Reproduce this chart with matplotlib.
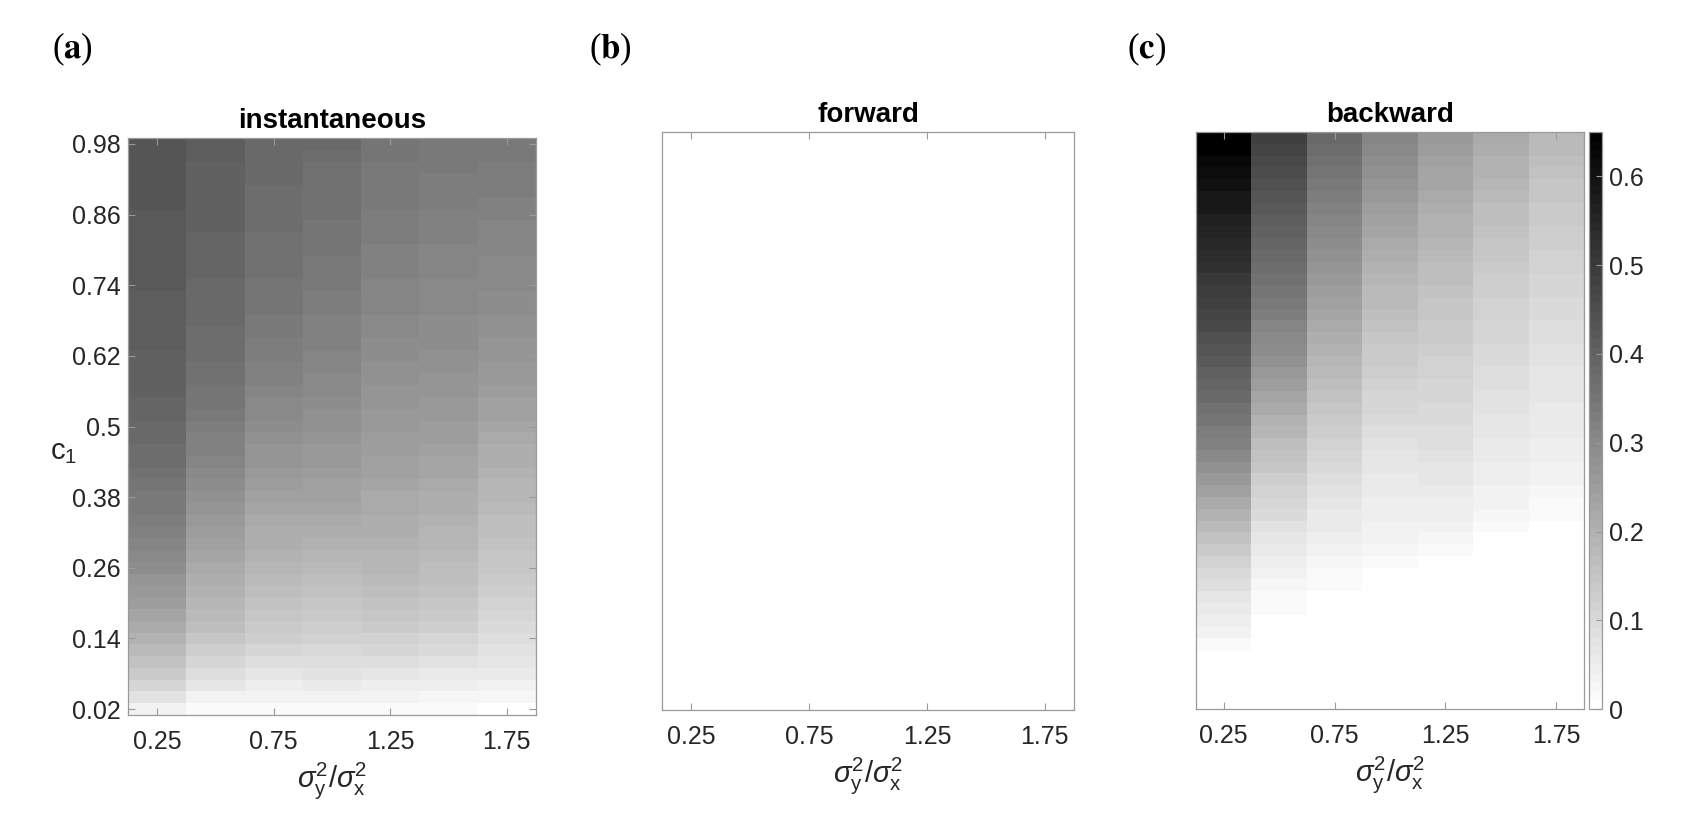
import matplotlib
matplotlib.use('Agg')
import matplotlib.pyplot as plt
import numpy as np

plt.rcParams['font.family'] = ['Liberation Sans', 'DejaVu Sans']
plt.rcParams['mathtext.fontset'] = 'custom'
plt.rcParams['mathtext.rm'] = 'Liberation Sans'
plt.rcParams['mathtext.it'] = 'Liberation Sans:italic'
plt.rcParams['mathtext.bf'] = 'Liberation Sans:bold'

# grid: variance ratio (columns) and c1 (rows, listed top -> bottom)
ratio = [0.25, 0.5, 0.75, 1.0, 1.25, 1.5, 1.75]
c1 = [0.98, 0.96, 0.94, 0.92, 0.90, 0.88, 0.86, 0.84, 0.82, 0.80,
      0.78, 0.76, 0.74, 0.72, 0.70, 0.68, 0.66, 0.64, 0.62, 0.60,
      0.58, 0.56, 0.54, 0.52, 0.50, 0.48, 0.46, 0.44, 0.42, 0.40,
      0.38, 0.36, 0.34, 0.32, 0.30, 0.28, 0.26, 0.24, 0.22, 0.20,
      0.18, 0.16, 0.14, 0.12, 0.10, 0.08, 0.06, 0.04, 0.02]

xticks = [0.25, 0.75, 1.25, 1.75]
xtick_labels = ['0.25', '0.75', '1.25', '1.75']
yticks = [0.02, 0.14, 0.26, 0.38, 0.5, 0.62, 0.74, 0.86, 0.98]
ytick_labels = ['0.02', '0.14', '0.26', '0.38', '0.5', '0.62', '0.74', '0.86', '0.98']
cbar_ticks = [0, 0.1, 0.2, 0.3, 0.4, 0.5, 0.6]
cbar_labels = ['0', '0.1', '0.2', '0.3', '0.4', '0.5', '0.6']

# (a) instantaneous, one list per column, c1 from 0.98 down to 0.02
inst_025 = [.433, .433, .431, .431, .428, .428, .426, .426, .423, .423,
            .421, .421, .418, .415, .415, .413, .410, .408, .405, .403,
            .400, .398, .393, .387, .382, .377, .372, .367, .359, .352,
            .344, .336, .326, .316, .306, .296, .285, .273, .260, .247,
            .232, .217, .199, .181, .161, .140, .107, .074, .038]
inst_050 = [.408, .408, .405, .403, .400, .400, .398, .398, .395, .393,
            .390, .387, .385, .382, .380, .377, .372, .370, .367, .362,
            .357, .352, .347, .339, .331, .324, .316, .308, .301, .291,
            .280, .270, .260, .250, .240, .229, .219, .209, .199, .189,
            .178, .166, .148, .127, .107, .084, .064, .038, .020]
inst_075 = [.385, .382, .380, .377, .375, .372, .370, .367, .365, .362,
            .359, .357, .354, .349, .347, .342, .336, .331, .326, .321,
            .316, .308, .303, .296, .288, .280, .273, .265, .257, .250,
            .240, .229, .219, .212, .204, .196, .186, .178, .168, .158,
            .150, .140, .127, .105, .089, .069, .048, .031, .015]
inst_100 = [.377, .370, .365, .365, .362, .359, .357, .354, .352, .347,
            .344, .342, .339, .334, .329, .324, .321, .316, .311, .306,
            .301, .296, .288, .283, .275, .270, .263, .257, .250, .242,
            .235, .227, .219, .212, .201, .191, .181, .171, .161, .150,
            .140, .127, .115, .094, .084, .074, .054, .033, .013]
inst_125 = [.347, .347, .344, .344, .339, .336, .334, .329, .326, .324,
            .319, .316, .314, .308, .306, .301, .296, .293, .288, .283,
            .278, .273, .268, .263, .257, .252, .247, .242, .235, .229,
            .222, .217, .212, .204, .196, .189, .184, .176, .168, .158,
            .148, .135, .120, .102, .084, .064, .043, .031, .018]
inst_150 = [.344, .342, .339, .334, .331, .329, .324, .321, .316, .311,
            .308, .306, .303, .298, .296, .293, .288, .285, .280, .275,
            .270, .265, .260, .255, .250, .245, .237, .232, .224, .219,
            .212, .206, .199, .191, .186, .178, .171, .163, .156, .145,
            .135, .125, .110, .094, .074, .059, .043, .028, .018]
inst_175 = [.339, .336, .334, .329, .326, .321, .319, .314, .311, .306,
            .303, .298, .296, .291, .285, .280, .275, .270, .265, .260,
            .255, .247, .240, .235, .227, .219, .212, .204, .196, .189,
            .184, .178, .171, .163, .158, .150, .143, .135, .127, .117,
            .107, .097, .087, .074, .064, .051, .038, .023, 0.0]

# (c) backward
back_025 = [.650, .640, .627, .614, .602, .589, .579, .566, .553, .543,
            .530, .520, .507, .497, .484, .472, .459, .446, .433, .421,
            .405, .393, .377, .365, .349, .334, .316, .301, .283, .263,
            .242, .222, .199, .176, .153, .135, .117, .099, .087, .071,
            .059, .046, .033, .020, 0.0, 0.0, 0.0, 0.0, 0.0]
back_050 = [.482, .472, .464, .456, .446, .436, .426, .415, .405, .395,
            .382, .372, .362, .352, .339, .326, .314, .301, .288, .275,
            .263, .247, .232, .217, .201, .186, .171, .156, .143, .130,
            .117, .105, .092, .079, .066, .056, .046, .036, .028, .020,
            .013, 0.0, 0.0, 0.0, 0.0, 0.0, 0.0, 0.0, 0.0]
back_075 = [.385, .375, .362, .352, .342, .331, .321, .311, .301, .291,
            .280, .270, .260, .250, .240, .229, .219, .209, .199, .189,
            .178, .168, .158, .148, .138, .127, .117, .107, .097, .087,
            .076, .066, .059, .051, .043, .036, .028, .020, .013, 0.0,
            0.0, 0.0, 0.0, 0.0, 0.0, 0.0, 0.0, 0.0, 0.0]
back_100 = [.306, .296, .285, .275, .265, .255, .245, .237, .227, .217,
            .209, .199, .191, .181, .173, .166, .156, .148, .140, .133,
            .125, .117, .110, .102, .094, .087, .079, .071, .064, .059,
            .054, .048, .043, .038, .033, .025, .018, .010, 0.0, 0.0,
            0.0, 0.0, 0.0, 0.0, 0.0, 0.0, 0.0, 0.0, 0.0]
back_125 = [.255, .247, .240, .232, .224, .217, .209, .201, .194, .186,
            .178, .171, .163, .158, .150, .145, .138, .133, .125, .120,
            .112, .107, .102, .097, .092, .087, .082, .076, .071, .064,
            .056, .048, .041, .033, .025, .018, 0.0, 0.0, 0.0, 0.0,
            0.0, 0.0, 0.0, 0.0, 0.0, 0.0, 0.0, 0.0, 0.0]
back_150 = [.217, .209, .201, .194, .186, .178, .171, .163, .156, .148,
            .143, .138, .130, .125, .120, .115, .110, .105, .099, .094,
            .089, .084, .079, .074, .069, .064, .059, .054, .048, .043,
            .038, .031, .025, .018, .010, 0.0, 0.0, 0.0, 0.0, 0.0,
            0.0, 0.0, 0.0, 0.0, 0.0, 0.0, 0.0, 0.0, 0.0]
back_175 = [.181, .173, .166, .158, .150, .145, .140, .135, .130, .125,
            .120, .115, .110, .105, .099, .094, .089, .084, .079, .074,
            .069, .064, .061, .059, .056, .051, .046, .041, .036, .031,
            .025, .020, .015, .010, 0.0, 0.0, 0.0, 0.0, 0.0, 0.0,
            0.0, 0.0, 0.0, 0.0, 0.0, 0.0, 0.0, 0.0, 0.0]

instantaneous = np.column_stack([inst_025, inst_050, inst_075, inst_100,
                                 inst_125, inst_150, inst_175])
backward = np.column_stack([back_025, back_050, back_075, back_100,
                            back_125, back_150, back_175])
forward = np.zeros((len(c1), len(ratio)))   # forward panel is zero everywhere

cmap = plt.get_cmap('gray_r', 64)
vmin, vmax = 0, 0.65
axis_col = '#9a9a9a'
text_col = '#262626'

fig = plt.figure(figsize=(17, 8.39), dpi=100)
rects = [[0.0753, 0.1478, 0.2400, 0.6877],
         [0.3894, 0.1538, 0.2424, 0.6889],
         [0.7035, 0.1549, 0.2282, 0.6877]]
panels = [('instantaneous', instantaneous, '(a)'),
          ('forward', forward, '(b)'),
          ('backward', backward, '(c)')]
panel_x = [72, 610, 1147]

dx = (ratio[1] - ratio[0]) / 2
dy = abs(c1[0] - c1[1]) / 2
for i, (title, data, tag) in enumerate(panels):
    ax = fig.add_axes(rects[i])
    im = ax.imshow(data, cmap=cmap, vmin=vmin, vmax=vmax, aspect='auto',
                   interpolation='nearest', origin='upper',
                   extent=[ratio[0] - dx, ratio[-1] + dx, c1[-1] - dy, c1[0] + dy])
    ax.set_xticks(xticks)
    ax.set_xticklabels(xtick_labels)
    if i == 0:
        ax.set_yticks(yticks)
        ax.set_yticklabels(ytick_labels)
        ax.set_ylabel(r'$\mathrm{c}_1$', rotation=0, fontsize=21, color=text_col,
                      va='center', ha='center')
        ax.yaxis.set_label_coords(-0.158, 0.455)
    else:
        ax.set_yticks([])
    ax.tick_params(direction='in', length=5, width=0.8, color=axis_col,
                   labelsize=18, labelcolor=text_col, top=True, right=True, pad=11)
    ax.tick_params(axis='y', pad=5)
    for s in ax.spines.values():
        s.set_color(axis_col)
        s.set_linewidth(0.9)
    ax.set_xlabel(r'$\sigma^2_{\rm y}/\sigma^2_{\rm x}$', fontsize=21, color=text_col, labelpad=4)
    ax.set_title(title, fontsize=20, fontweight='bold', pad=7)
    fig.text(panel_x[i] / 1700, 1 - 49 / 839, tag.replace(tag[1], r'$\mathbf{' + tag[1] + '}$'),
             ha='center', va='center', fontsize=25, family='Liberation Serif',
             math_fontfamily='stix')

cax = fig.add_axes([0.9347, 0.1549, 0.00765, 0.6877])
cb = fig.colorbar(im, cax=cax, ticks=cbar_ticks)
cb.set_ticklabels(cbar_labels)
cb.outline.set_edgecolor(axis_col)
cb.outline.set_linewidth(0.9)
cax.tick_params(direction='in', length=4, color=axis_col, labelsize=18,
                labelcolor=text_col, pad=5)

fig.savefig('out.png', dpi=100)
